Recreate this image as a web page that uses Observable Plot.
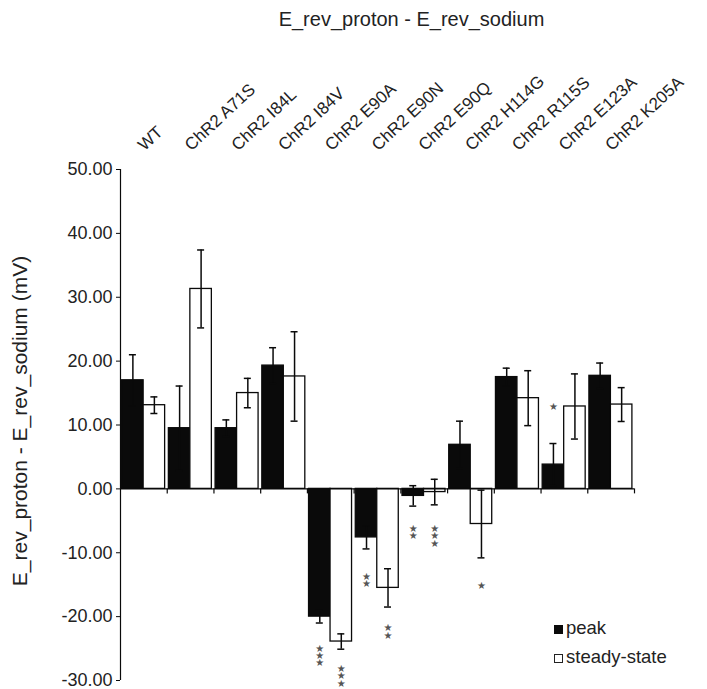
<!DOCTYPE html>
<html>
<head>
<meta charset="utf-8">
<script src="https://cdn.jsdelivr.net/npm/d3@7"></script>
<script src="https://cdn.jsdelivr.net/npm/@observablehq/plot@0.6"></script>
<style>
  html, body { margin: 0; padding: 0; background: #fff; overflow: hidden; }
  #wrap { position: relative; width: 707px; height: 689px; font-family: "Liberation Sans", Arial, Helvetica, sans-serif; color: #222; }
  #chart { position: absolute; left: 0; top: 0; }
  #title { position: absolute; left: 0; width: 823px; top: 8px; text-align: center; font-size: 20px; white-space: nowrap; }
  #legend { position: absolute; left: 554px; top: 613px; font-size: 18.5px; line-height: 29px; white-space: nowrap; }
  .sw { display: inline-block; width: 9px; height: 9px; margin-right: 3px; box-sizing: border-box; vertical-align: 0px; }
</style>
</head>
<body>
<div id="wrap">
  <div id="chart"></div>
  <div id="title"></div>
  <div id="legend"></div>
</div>
<script>
// Reversal-potential shift (proton minus sodium), mean ± error, per construct
const categories = ["WT", "ChR2 A71S", "ChR2 I84L", "ChR2 I84V", "ChR2 E90A", "ChR2 E90N",
                    "ChR2 E90Q", "ChR2 H114G", "ChR2 R115S", "ChR2 E123A", "ChR2 K205A"];
const seriesNames = ["peak", "steady-state"];
const peak      = [17.0, 9.5, 9.5, 19.3, -20.0, -7.6, -1.1, 6.9, 17.5, 3.8, 17.7];
const peakErr   = [4.0, 6.6, 1.3, 2.8, 1.0, 1.8, 1.6, 3.7, 1.4, 3.3, 2.0];
const steady    = [13.1, 31.3, 15.0, 17.6, -23.9, -15.5, -0.5, -5.5, 14.2, 12.9, 13.2];
const steadyErr = [1.3, 6.1, 2.3, 7.0, 1.2, 3.0, 2.0, 5.3, 4.3, 5.1, 2.65];

// Significance markers: construct, series, number of stars, value where the stack starts
const sigCategory = ["ChR2 E90A", "ChR2 E90A", "ChR2 E90N", "ChR2 E90N", "ChR2 E90Q", "ChR2 E90Q", "ChR2 H114G", "ChR2 E123A"];
const sigSeries   = ["peak", "steady-state", "peak", "steady-state", "peak", "steady-state", "steady-state", "peak"];
const sigStars    = [3, 3, 2, 2, 2, 3, 1, 1];
const sigAt       = [-24.7, -27.9, -13.5, -21.5, -6.0, -6.0, -14.9, 13.1];

const yTicks = [-30, -20, -10, 0, 10, 20, 30, 40, 50];
const titleText = "E_rev_proton - E_rev_sodium";
const yLabel = "E_rev_proton - E_rev_sodium (mV)";

// Each construct occupies one unit on x; the two series split it side by side
const slot = {"peak": [0.035, 0.495], "steady-state": [0.495, 0.955]};
const mid = (d) => d.i + (slot[d.series][0] + slot[d.series][1]) / 2;

const rows = [];
categories.forEach((c, i) => {
  rows.push({cat: c, i, series: "peak", value: peak[i], err: peakErr[i]});
  rows.push({cat: c, i, series: "steady-state", value: steady[i], err: steadyErr[i]});
});
const caps = rows.flatMap((d) => [{...d, at: d.value + d.err}, {...d, at: d.value - d.err}]);
const sig = sigCategory.map((c, k) => ({
  i: categories.indexOf(c), series: sigSeries[k], at: sigAt[k],
  label: Array(sigStars[k]).fill("\u2605").join("\n")
}));
const ink = "#0a0a0a";

const chart = Plot.plot({
  width: 707,
  height: 689,
  marginLeft: 120,
  marginRight: 73,
  marginTop: 169,
  marginBottom: 9,
  style: {fontFamily: "'Liberation Sans', Arial, Helvetica, sans-serif", color: "#222", background: "transparent"},
  x: {domain: [0, categories.length]},
  y: {domain: [-30, 50]},
  marks: [
    Plot.rect(rows, {
      x1: (d) => d.i + slot[d.series][0],
      x2: (d) => d.i + slot[d.series][1],
      y1: 0,
      y2: "value",
      fill: (d) => d.series === "peak" ? ink : "#fff",
      stroke: ink,
      strokeWidth: 1.3
    }),
    Plot.ruleX(rows, {x: mid, y1: (d) => d.value - d.err, y2: (d) => d.value + d.err, stroke: ink, strokeWidth: 1.5}),
    Plot.ruleY(caps, {x1: mid, x2: mid, y: "at", insetLeft: -3.5, insetRight: -3.5, stroke: ink, strokeWidth: 1.5}),
    Plot.ruleY([0], {stroke: ink, strokeWidth: 1.3}),
    Plot.ruleX(d3.range(1, categories.length + 1), {y1: 0, y2: 0, insetBottom: -5, stroke: ink, strokeWidth: 1.2}),
    Plot.ruleX([0], {stroke: ink, strokeWidth: 1.2}),
    Plot.text(sig, {x: mid, y: "at", text: "label", lineAnchor: "top", lineHeight: 0.72, fontSize: 10, fill: "#555",
                    fontFamily: "'DejaVu Sans', sans-serif"}),
    Plot.axisY(yTicks, {tickFormat: (v) => v.toFixed(2), tickSize: 4, tickPadding: 4, fontSize: 18, label: null, stroke: ink}),
    Plot.axisX(categories.map((c, i) => i + 0.5), {
      anchor: "top", tickSize: 0, tickPadding: 22, tickRotate: -43, textAnchor: "start", dx: -3,
      fontSize: 17, tickFormat: (v) => categories[Math.floor(v)], label: null
    }),
    Plot.text([yLabel], {frameAnchor: "left", textAnchor: "middle", rotate: -90, dx: -100, dy: -4, fontSize: 21, fill: "#222"})
  ]
});
document.getElementById("chart").appendChild(chart);
document.getElementById("title").textContent = titleText;

const legend = document.getElementById("legend");
seriesNames.forEach((name) => {
  const row = document.createElement("div");
  const sw = document.createElement("span");
  sw.className = "sw";
  if (name === "peak") sw.style.background = ink;
  else { sw.style.background = "#fff"; sw.style.border = "1.5px solid #222"; }
  row.appendChild(sw);
  row.appendChild(document.createTextNode(name));
  legend.appendChild(row);
});
</script>
</body>
</html>
